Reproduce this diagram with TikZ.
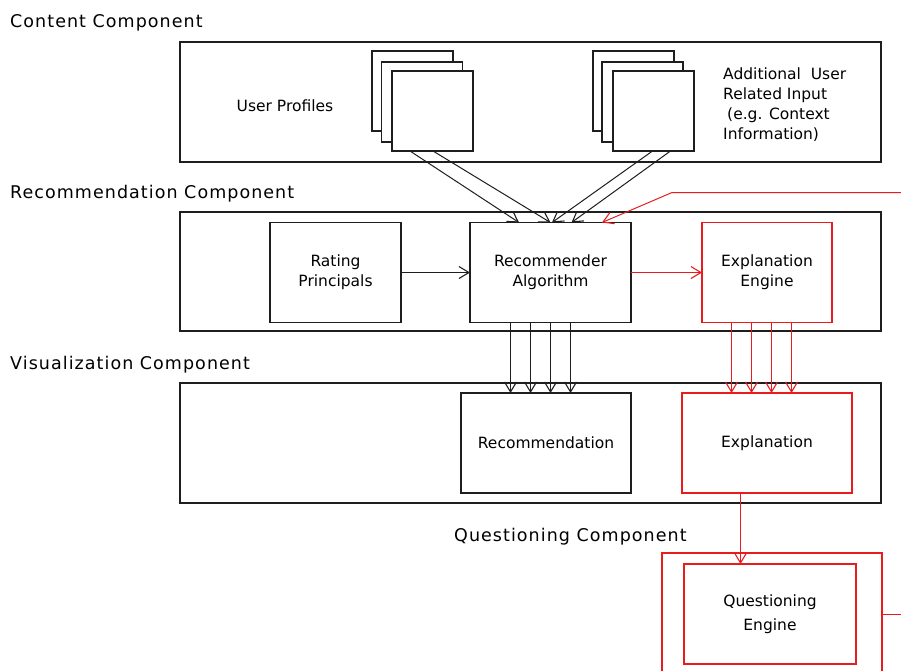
\documentclass[tikz,border=0pt]{standalone}
\usepackage{fontspec}
\setmainfont{DejaVu Sans}
\newfontfamily\titlefont{DejaVu Sans}[LetterSpace=6]
\usetikzlibrary{arrows.meta,calc}
\definecolor{engred}{RGB}{232,28,28}
\definecolor{ink}{RGB}{30,30,30}

\begin{document}
\begin{tikzpicture}[x=1pt,y=-1pt,
  panel/.style={draw=ink,line width=1.2pt,inner sep=0pt,outer sep=0pt},
  box/.style={draw=ink,line width=1.2pt,fill=white,text=black,inner sep=0pt,outer sep=0pt,
    font=\fontsize{15.5}{20}\selectfont,align=center},
  redbox/.style={box,draw=engred},
  sheet/.style={draw=ink,line width=1.2pt,fill=white,inner sep=0pt,outer sep=0pt,
    minimum width=81pt,minimum height=80pt},
  title/.style={anchor=base west,inner sep=0pt,font=\titlefont\fontsize{17.5}{21}\selectfont},
  label/.style={inner sep=0pt,font=\fontsize{15.5}{20}\selectfont},
  arr/.style={draw=ink,line width=1pt,-{Straight Barb[length=10pt,width=12pt,line width=1.1pt]}},
  redarr/.style={arr,draw=engred},
  redline/.style={draw=engred,line width=1.1pt}]

\useasboundingbox (0,0) rectangle (901,670);

% component panels
\node[panel,minimum width=701pt,minimum height=120pt] (content) at (530.5,102) {};
\node[panel,minimum width=701pt,minimum height=119pt] (recpanel) at (530.5,271.5) {};
\node[panel,minimum width=701pt,minimum height=120pt] (vispanel) at (530.5,443) {};
\node[panel,draw=engred,minimum width=220pt,minimum height=147pt] (qpanel) at (772,626.5) {};

% component titles
\node[title] (tcontent) at (10,27.5) {Content Component};
\node[title] (trec) at (10,198.5) {Recommendation Component};
\node[title] (tvis) at (10,369.5) {Visualization Component};
\node[title] (tq) at (454,541.5) {Questioning Component};

% content inputs
\node[label,anchor=base] (uplabel) at (285,111.5) {User Profiles};
\node[sheet] (lback) at (412.5,91) {};
\node[sheet] (lmid) at (422,102) {};
\node[sheet] (lfront) at (432.5,111) {};
\node[sheet] (rback) at (633.5,91) {};
\node[sheet] (rmid) at (642.5,102) {};
\node[sheet] (rfront) at (653.5,111) {};
\node[label,align=left,anchor=west] (extra) at (723,105)
  {Additional\ \ User\\Related Input\\\hspace{4pt}(e.g. Context\\Information)};

% recommendation component
\node[box,minimum width=131pt,minimum height=100pt] (rating) at (335.5,272.5) {Rating\\Principals};
\node[box,minimum width=161pt,minimum height=100pt] (rec) at (550.5,272.5) {Recommender\\Algorithm};
\node[redbox,minimum width=130pt,minimum height=100pt] (engine) at (767,272.5) {Explanation\\Engine};

% visualization component
\node[box,minimum width=170pt,minimum height=100pt] (recm) at (546,443) {Recommendation};
\node[redbox,minimum width=170pt,minimum height=100pt] (expl) at (767,443) {Explanation};

% questioning component
\node[redbox,minimum width=172pt,minimum height=100pt,font=\fontsize{15.5}{24}\selectfont]
  (qengine) at (770,614) {Questioning\\Engine};

% inputs into the recommender
\draw[arr] ($(lfront.south)+(-22.5,0)$) -- ($(rec.north)+(-31.5,0)$);
\draw[arr] ($(lfront.south)+(0.5,0)$) -- ($(rec.north)+(0,0)$);
\draw[arr] ($(rfront.south)+(-1,0)$) -- ($(rec.north)+(1.5,0)$);
\draw[arr] ($(rfront.south)+(17,0)$) -- ($(rec.north)+(21,0)$);
\coordinate (redin) at (901,192.5);
\draw[redarr] (redin) -- (672,192.5) -- ($(rec.north)+(51.5,0)$);

\draw[arr] (rating.east) -- (rec.west);
\draw[redarr] (rec.east) -- (engine.west);

% outputs to the visualization
\foreach \dx in {-35.5,-15.5,4.5,24.5} {
  \draw[arr] ($(rec.south)+(\dx-4.5,0)$) -- ($(recm.north)+(\dx,0)$);
  \draw[redarr] ($(engine.south)+(\dx,0)$) -- ($(expl.north)+(\dx,0)$);
}

% explanation feeds the questioning engine
\draw[redarr] ($(expl.south)+(-26.5,0)$) -- ($(qengine.north)+(-29.5,0)$);
\coordinate (redout) at (901,614.5);
\draw[redline] (qpanel.east |- redout) -- (redout);

\end{tikzpicture}
\end{document}
